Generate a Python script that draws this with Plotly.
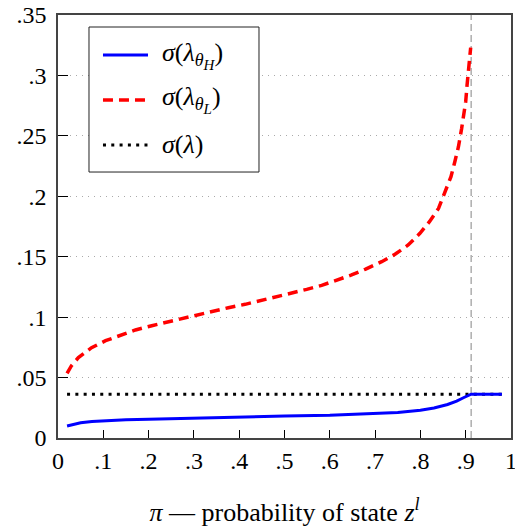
import plotly.graph_objects as go

# ---- data ----
pi_H = [0.02, 0.035, 0.05, 0.075, 0.1, 0.15, 0.2, 0.3, 0.4, 0.5, 0.6, 0.7, 0.75,
        0.8, 0.83, 0.86, 0.88, 0.895, 0.905, 0.912, 0.98]
sigma_H = [0.0099, 0.0115, 0.0126, 0.0136, 0.0143, 0.0151, 0.0156, 0.0166, 0.0174,
           0.0181, 0.0188, 0.0201, 0.0211, 0.0229, 0.0248, 0.0277, 0.0305, 0.0333,
           0.0352, 0.0362, 0.0362]

pi_L = [0.02, 0.03, 0.045, 0.074, 0.105, 0.137, 0.171, 0.207, 0.244, 0.275, 0.31,
        0.339, 0.376, 0.413, 0.446, 0.481, 0.516, 0.549, 0.582, 0.615, 0.648, 0.678,
        0.7145, 0.744, 0.773, 0.799, 0.82, 0.84, 0.854, 0.8675, 0.876, 0.884, 0.891,
        0.896, 0.9, 0.903, 0.906, 0.909, 0.911]
sigma_L = [0.0535, 0.06, 0.0665, 0.0747, 0.0805, 0.085, 0.0894, 0.0929, 0.0963,
           0.0987, 0.1023, 0.1045, 0.1078, 0.1106, 0.1136, 0.1164, 0.1194, 0.123,
           0.1263, 0.1305, 0.1349, 0.1396, 0.1459, 0.152, 0.1597, 0.1694, 0.179,
           0.19, 0.2025, 0.2162, 0.2286, 0.241, 0.256, 0.2687, 0.2783, 0.292, 0.306,
           0.318, 0.323]

pi_pool = [0.02, 0.98]
sigma_pool = [0.0362, 0.0362]

pi_threshold = 0.912

x_ticks = [0, 0.1, 0.2, 0.3, 0.4, 0.5, 0.6, 0.7, 0.8, 0.9, 1]
x_labels = ["0", ".1", ".2", ".3", ".4", ".5", ".6", ".7", ".8", ".9", "1"]
y_ticks = [0, 0.05, 0.1, 0.15, 0.2, 0.25, 0.3, 0.35]
y_labels = ["0", ".05", ".1", ".15", ".2", ".25", ".3", ".35"]


def sig_name(sub):
    if sub is None:
        return "<i>σ</i>(<i>λ</i>)"
    return ("<i>σ</i>(<i>λ</i><sub><span style='font-size:18px'><i>θ</i></span>"
            "<sub><span style='font-size:15px'><i>" + sub + "</i></span></sub></sub>)")


legend_names = [sig_name("H"), sig_name("L"), sig_name(None)]

FONT = "Liberation Serif, DejaVu Serif, serif"
RED_DASH = "10px,6px"
POOL_DOT = "3px,5.3px"

fig = go.Figure()
fig.add_trace(go.Scatter(x=pi_L, y=sigma_L, mode="lines", name=legend_names[1],
                         line=dict(color="#ff0000", width=3.5, dash=RED_DASH)))
fig.add_trace(go.Scatter(x=pi_pool, y=sigma_pool, mode="lines", name=legend_names[2],
                         line=dict(color="black", width=3, dash=POOL_DOT)))
fig.add_trace(go.Scatter(x=pi_H, y=sigma_H, mode="lines", name=legend_names[0],
                         line=dict(color="#0000ff", width=3)))

fig.add_shape(type="line", xref="x", yref="y", x0=pi_threshold, x1=pi_threshold,
              y0=0, y1=0.35, line=dict(color="#999999", width=1.2, dash="7px,4px"),
              layer="below")

# ---- legend box drawn in paper coordinates ----
fig.add_shape(type="rect", xref="paper", yref="paper", x0=0.0684, x1=0.4437,
              y0=0.6288, y1=0.9716, line=dict(color="#222", width=1),
              fillcolor="white", layer="above")
legend_styles = [dict(color="#0000ff", width=3),
                 dict(color="#ff0000", width=3.5, dash=RED_DASH),
                 dict(color="black", width=3, dash=POOL_DOT)]
legend_rows = [0.9054, 0.7991, 0.6927]
for name, style, yy in zip(legend_names, legend_styles, legend_rows):
    fig.add_shape(type="line", xref="paper", yref="paper", x0=0.0993, x1=0.1987,
                  y0=yy, y1=yy, line=style, layer="above")
    fig.add_annotation(xref="paper", yref="paper", x=0.2252, y=yy, text=name,
                       showarrow=False, xanchor="left", yanchor="middle",
                       font=dict(family=FONT, size=26, color="black"))

# body has an 8px default margin, so the figure is shrunk/offset by 8px
fig.update_layout(
    width=515, height=521,
    margin=dict(l=50, r=12, t=7, b=91),
    paper_bgcolor="white", plot_bgcolor="white",
    font=dict(family=FONT, size=24, color="black"),
    showlegend=False,
    xaxis=dict(range=[0, 1], tickvals=x_ticks, ticktext=x_labels,
               ticks="inside", ticklen=8, tickcolor="black", tickwidth=1,
               showline=True, linecolor="#444", linewidth=1.5, mirror=True,
               showgrid=False, zeroline=False, automargin=False,
               ticklabeloverflow="allow",
               tickfont=dict(family=FONT, size=24),
               title=dict(text="<i>π</i> — probability of state <i>z</i><sup><i>l</i></sup>",
                          font=dict(family=FONT, size=26), standoff=30)),
    yaxis=dict(range=[0, 0.35], tickvals=y_ticks, ticktext=y_labels,
               ticks="inside", ticklen=10, tickcolor="black", tickwidth=1,
               showline=True, linecolor="#444", linewidth=1.5, mirror=True,
               showgrid=True, gridcolor="#aaaaaa", gridwidth=1, griddash="1px,5px",
               zeroline=False, automargin=False, ticklabeloverflow="allow",
               ticklabelstandoff=5,
               tickfont=dict(family=FONT, size=24)),
)

fig.write_html("out.html")
